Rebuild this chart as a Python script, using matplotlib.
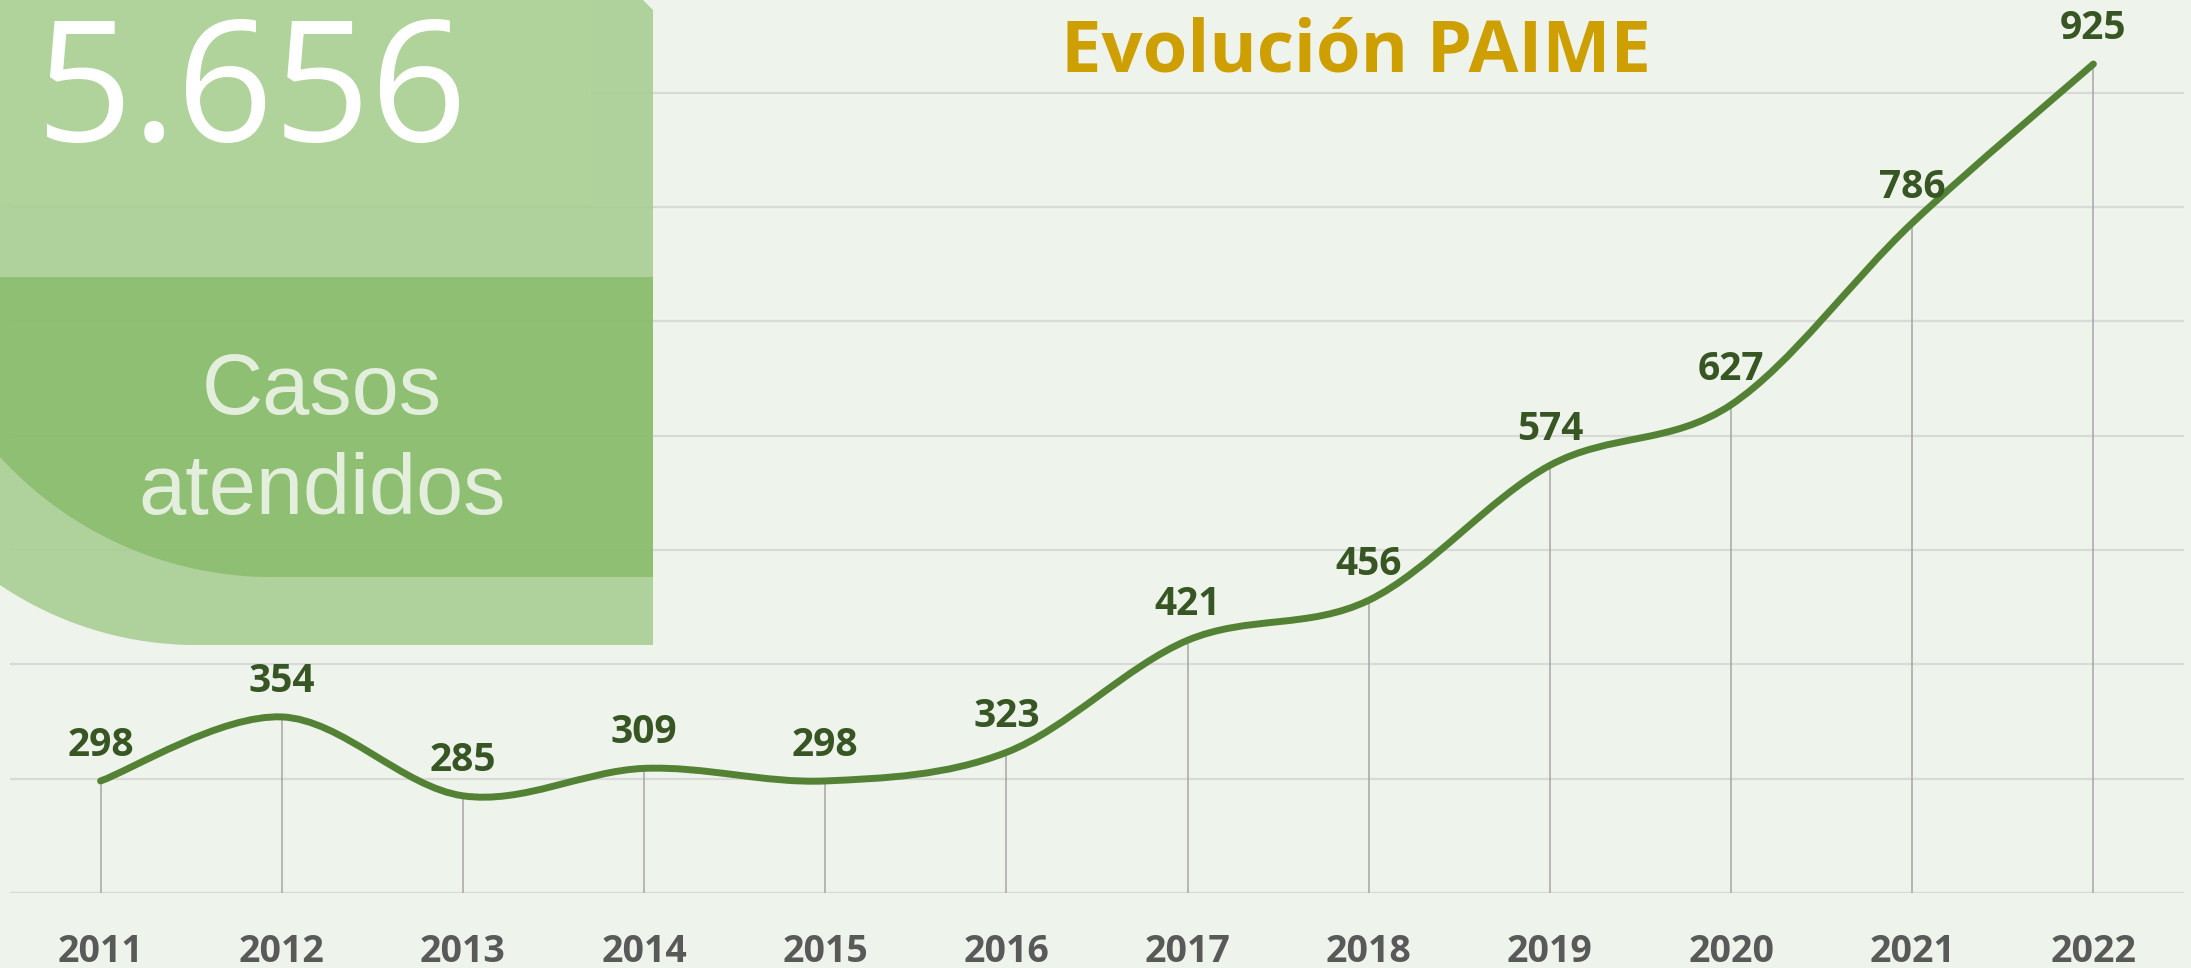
import numpy as np
import matplotlib
matplotlib.use("Agg")
import matplotlib.pyplot as plt
from matplotlib.path import Path
from matplotlib.patches import PathPatch, Rectangle

years = ["2011", "2012", "2013", "2014", "2015", "2016",
         "2017", "2018", "2019", "2020", "2021", "2022"]
casos = [298, 354, 285, 309, 298, 323, 421, 456, 574, 627, 786, 925]
total_casos = "5.656"
titulo = "Evolución PAIME"

W, H = 2191, 968
bg_color = "#EEF3EB"
line_color = "#548235"
label_color = "#375623"
panel_light = "#B0D29B"
panel_light_t = "#A7CD90"  # mismo tono visto con transparencia
panel_dark = "#8DBE70"


def smooth_path(xs, ys):
    # curva suavizada tipo excel (bezier catmull-rom)
    xs = np.asarray(xs, dtype=float)
    ys = np.asarray(ys, dtype=float)
    n = len(xs)
    verts = [(xs[0], ys[0])]
    codes = [Path.MOVETO]
    for i in range(n - 1):
        i0 = max(i - 1, 0)
        i3 = min(i + 2, n - 1)
        c1 = (xs[i] + (xs[i + 1] - xs[i0]) / 6, ys[i] + (ys[i + 1] - ys[i0]) / 6)
        c2 = (xs[i + 1] - (xs[i3] - xs[i]) / 6, ys[i + 1] - (ys[i3] - ys[i]) / 6)
        verts += [c1, c2, (xs[i + 1], ys[i + 1])]
        codes += [Path.CURVE4] * 3
    return Path(verts, codes)


def panel_shape(y0, x1, y1, xt, r, cut=0):
    # rectangulo cortado abajo a la izquierda por un arco de circulo
    # (pixeles, y hacia abajo); el arco toca el borde inferior en x=xt
    yc = y1 - r
    a_end = np.arccos(-xt / r)
    t = np.linspace(np.pi / 2, a_end, 60)
    arc = [(xt + r * np.cos(a), yc + r * np.sin(a)) for a in t]
    pts = [(0, y0), (x1 - cut, y0), (x1, y0 + cut), (x1, y1)] + arc + [(0, y0)]
    return Path(pts, closed=True)


fig = plt.figure(figsize=(W / 100, H / 100), dpi=100)
fig.patch.set_facecolor(bg_color)

# eje del grafico
ax = fig.add_axes([10 / W, (H - 893) / H, 2174 / W, 893 / H], zorder=1)
ax.set_facecolor("none")
x = np.arange(len(years))
ax.set_xlim(-0.5, len(years) - 0.5)
ax.set_ylim(200, 981)
ax.set_yticks(range(200, 1000, 100))
ax.yaxis.grid(True, color="#D9D9D9", lw=1.6)
ax.set_axisbelow(True)
ax.tick_params(axis="y", length=0, labelleft=False)
for s in ax.spines.values():
    s.set_visible(False)

ax.vlines(x, 200, casos, color="#A6A6A6", lw=1.1, zorder=2)
ax.add_patch(PathPatch(smooth_path(x, casos), fc="none", ec=line_color,
                       lw=5, capstyle="round", zorder=3))

for xi, v in zip(x, casos):
    ax.annotate(str(v), (xi, v), xytext=(0, 18), textcoords="offset points",
                ha="center", va="baseline", fontsize=28, fontweight="bold",
                family="Open Sans", color=label_color, zorder=4)

ax.set_xticks(x)
ax.set_xticklabels(years, fontsize=27, fontweight="bold", family="Open Sans",
                   color="#595959")
ax.tick_params(axis="x", length=0, pad=50)
for lab in ax.get_xticklabels():
    lab.set_va("baseline")

# panel verde de la izquierda
ov = fig.add_axes([0, 0, 1, 1], zorder=2)
ov.set_xlim(0, W)
ov.set_ylim(H, 0)
ov.axis("off")
ov.patch.set_alpha(0)

ov.add_patch(PathPatch(panel_shape(0, 653, 645, 196, 350, cut=10),
                       fc=panel_light_t, ec="none", alpha=0.88))
ov.add_patch(Rectangle((0, 0), 591, 204, fc=panel_light, ec="none"))
ov.add_patch(PathPatch(panel_shape(277, 653, 577, 272, 368),
                       fc=panel_dark, ec="none", alpha=0.95))

ov.text(251, 141, total_casos, ha="center", va="baseline", fontsize=122,
        family="Open Sans", color="white")
ov.text(322, 414, "Casos", ha="center", va="baseline", fontsize=61,
        family="Liberation Sans", color="#E3EFDC")
ov.text(322, 514, "atendidos", ha="center", va="baseline", fontsize=61,
        family="Liberation Sans", color="#E3EFDC")

ov.text(1356, 72, titulo, ha="center", va="baseline", fontsize=52,
        fontweight="bold", family="Open Sans", color="#CE9F00")

fig.savefig("out.png", dpi=100, facecolor=bg_color)
